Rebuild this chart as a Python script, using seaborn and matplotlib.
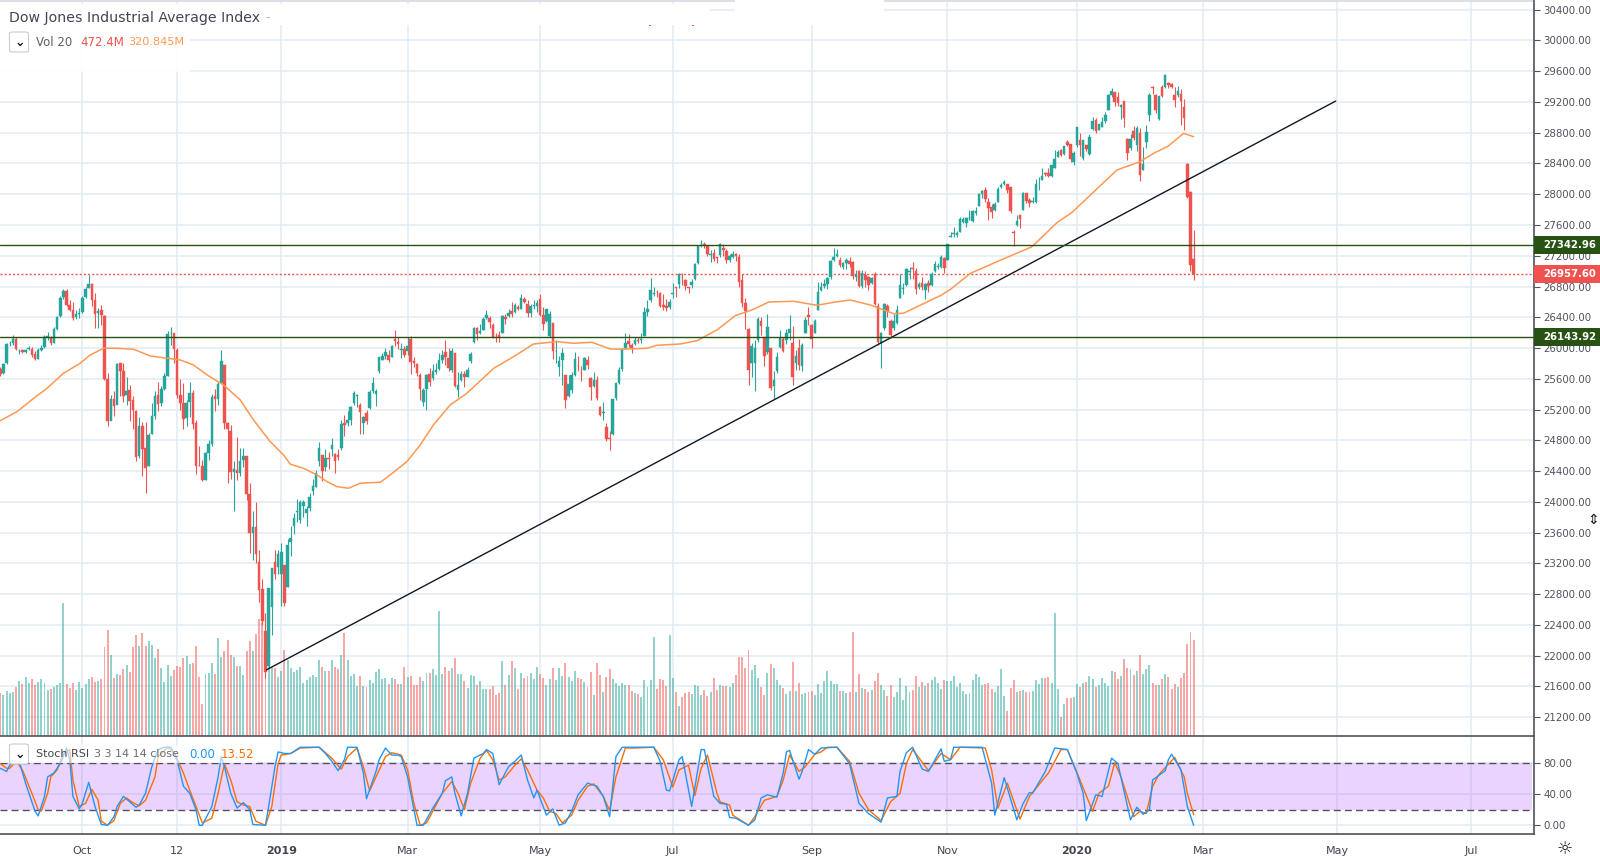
import matplotlib
matplotlib.use("Agg")
import matplotlib.pyplot as plt
from matplotlib.patches import Rectangle, FancyBboxPatch
import pandas as pd
import seaborn as sns

# daily candles, first bar = 23 Aug 2018
opens = [25730,25670,25800,26060,26070,26120,25960,25970,25950,25985,
         25990,25920,25860,25970,26010,26150,26130,26070,26250,26415,
         26660,26740,26560,26500,26400,26440,26470,26660,26780,26830,
         26630,26450,26490,26420,25600,25050,25340,25260,25800,25700,
         25390,25460,25320,25180,24590,24980,24700,24470,24880,25120,
         25390,25280,25470,25640,26190,26190,25980,25390,25290,25090,
         25300,25420,25020,24470,24460,24290,24640,24750,25370,25340,
         25540,25780,25030,24920,24390,24420,24380,24540,24590,24100,
         23600,23675,23224,22873,22320,21860,22630,23215,23153,23060,
         23177,22894,23474,23680,23864,23770,23940,23850,23914,24140,
         24190,24535,24606,24455,24576,24687,24625,24607,24700,25030,
         25025,25062,25287,25371,25265,25030,25152,25226,25446,25400,
         25700,25849,25892,25911,25890,26122,26084,25970,25984,25960,
         26122,25829,25790,25645,25300,25471,25660,25615,25690,25730,
         25845,25950,25870,25710,25930,25450,25580,25660,25625,25835,
         26075,26265,26200,26235,26395,26395,26300,26160,26175,26200,
         26400,26420,26480,26470,26540,26510,26640,26570,26460,26545,
         26545,26640,26430,26350,26155,26320,25960,25755,25845,25650,
         25370,25460,25650,25770,25680,25720,25850,25610,25510,25590,
         25230,25150,24970,24830,24880,25350,25550,25730,26000,26090,
         26040,26050,26110,26110,26160,26470,26620,26700,26730,26720,
         26560,26550,26530,26700,26790,26830,26930,26880,26790,26820,
         26900,27100,27350,27350,27330,27210,27230,27180,27210,27300,
         27260,27140,27190,27220,27190,26880,26580,26250,25810,25810,
         26100,26350,26150,25950,26000,25500,25700,26020,26120,26100,
         26200,26070,25800,26000,25770,26200,26430,26300,26200,26500,
         26760,26810,26830,26930,27150,27200,27150,27060,27110,27130,
         27120,26930,27000,26810,26950,26930,26850,26960,26550,26060,
         26260,26550,26350,26260,26320,26650,26770,26820,26990,27040,
         27000,26800,26850,26750,26840,26820,27000,27060,27060,27170,
         27150,27450,27480,27470,27510,27640,27620,27690,27650,27750,
         27850,28000,28050,27900,27830,27800,27900,28100,28130,28130,
         28100,27510,27600,27730,27800,28010,27920,27900,27900,28130,
         28190,28270,28280,28240,28340,28490,28570,28520,28680,28650,
         28420,28640,28710,28470,28640,28520,28850,28960,28840,28880,
         28950,29100,29290,29330,29270,29140,29210,28720,28600,28820,
         28640,28800,28320,28680,29030,29395,29290,28980,29400,29390,
         29450,29440,29290,29290,29300,29130,28390,28030,27160]
highs = [25760,25810,26060,26090,26170,26140,25990,25990,25990,26030,
         26020,25960,26000,26040,26170,26210,26160,26270,26420,26680,
         26770,26770,26620,26600,26500,26520,26680,26800,26950,26840,
         26710,26520,26560,26430,25670,25390,25440,25810,25800,25800,
         25620,25520,25380,25190,25100,25040,25040,24900,25280,25440,
         25560,25500,25680,26220,26280,26200,26000,25600,25550,25320,
         25560,25450,25060,24720,24540,24650,24800,25400,25470,25560,
         25980,25780,25040,25000,24530,24840,24700,24700,24600,24250,
         23880,24000,23380,23000,22550,22880,23140,23380,23380,23470,
         23180,23520,23690,23860,24040,24030,24020,23950,24120,24300,
         24420,24780,24610,24690,24650,24830,24630,24690,25060,25130,
         25180,25250,25440,25400,25290,25120,25200,25460,25620,25470,
         25890,25940,26000,25980,26040,26240,26150,26060,26030,26150,
         26160,25890,25800,25670,25480,25660,25740,25790,25800,25930,
         25970,26110,26000,26000,25930,25690,25700,25700,25750,25950,
         26270,26270,26310,26400,26490,26420,26320,26200,26220,26430,
         26440,26510,26600,26590,26560,26700,26660,26620,26570,26620,
         26620,26700,26530,26510,26480,26330,26100,25900,26000,25650,
         25650,25690,25950,25900,25770,25880,25900,25620,25690,25630,
         25240,25300,25030,24920,25340,25550,25750,26000,26200,26180,
         26070,26150,26140,26190,26540,26620,26910,26800,26750,26730,
         26700,26640,26640,26840,26800,26980,26970,26900,26800,26900,
         27100,27340,27400,27380,27340,27270,27290,27190,27370,27350,
         27290,27220,27260,27230,27220,26960,26650,26260,26060,26110,
         26410,26400,26150,26440,26000,25700,25950,26230,26140,26250,
         26430,26290,25970,26120,26060,26400,26540,26310,26380,26860,
         26860,26900,26920,27150,27300,27290,27180,27120,27170,27190,
         27130,27020,27010,27010,27000,26940,26930,26990,26590,26210,
         26590,26570,26380,26440,26560,26960,26840,27040,27050,27120,
         27040,26860,26920,26850,26880,26990,27130,27100,27210,27190,
         27350,27510,27570,27520,27700,27700,27700,27790,27800,27840,
         28010,28060,28090,27950,27870,27900,28090,28140,28180,28130,
         28100,27540,27730,27730,28030,28020,27950,27960,28200,28220,
         28340,28290,28340,28380,28580,28580,28590,28630,28700,28650,
         28560,28880,28800,28710,28640,28780,29000,28990,28910,29000,
         29070,29300,29380,29330,29330,29170,29210,28730,28780,28890,
         28890,28860,28620,28900,29320,29410,29310,29280,29420,29570,
         29460,29450,29390,29410,29370,29240,28410,28040,27540]
lows = [25640,25660,25790,26030,26040,25970,25920,25930,25930,25970,
        25890,25840,25860,25960,26000,26110,26040,26060,26240,26410,
        26640,26550,26480,26370,26380,26390,26450,26650,26780,26550,
        26260,26260,26300,25580,24980,25120,25120,25270,25380,25300,
        25260,25050,24950,24530,24570,24330,24120,24470,24880,25080,
        25180,25250,25460,25640,26040,25800,25350,25200,24950,24990,
        25100,24950,24360,24460,24270,24290,24550,24720,25180,25260,
        25700,24950,24240,24300,23880,24280,24330,24450,24030,23340,
        23250,23200,22700,22400,21710,21850,22270,23000,23060,22640,
        22640,22890,23300,23580,23740,23720,23800,23690,23880,24090,
        24190,24470,24270,24400,24430,24590,24380,24540,24680,24860,
        24980,25000,25260,25230,24880,24880,25010,25210,25420,25250,
        25680,25840,25860,25820,25880,26030,25990,25870,25880,25910,
        25660,25750,25640,25320,25250,25200,25500,25590,25660,25720,
        25810,25780,25700,25690,25490,25360,25570,25490,25620,25800,
        26070,26110,26180,26230,26380,26260,26130,26080,26080,26200,
        26310,26410,26400,26450,26500,26510,26590,26410,26400,26510,
        26470,26420,26230,26340,26150,25860,25800,25630,25520,25220,
        25360,25420,25630,25700,25570,25720,25730,25330,25490,25320,
        25110,25060,24790,24680,24870,25330,25530,25700,25990,26010,
        25930,26040,26060,26070,26160,26420,26600,26680,26660,26530,
        26500,26480,26510,26650,26670,26780,26820,26760,26720,26780,
        26890,27090,27310,27300,27200,27120,27130,27110,27190,27200,
        27110,27120,27170,27130,26800,26530,26250,25520,25620,25440,
        26080,26170,25770,25920,25460,25340,25680,26000,25950,26050,
        26100,25520,25720,25720,25700,26200,26300,26000,26190,26500,
        26740,26780,26770,26900,27130,27180,27060,27030,27030,27060,
        26900,26870,26800,26780,26800,26750,26830,26560,26040,25745,
        26240,26400,26130,26240,26310,26650,26700,26810,26900,26900,
        26700,26770,26750,26640,26730,26810,26990,27030,27040,26980,
        27150,27440,27450,27440,27510,27620,27570,27660,27640,27730,
        27850,27950,27900,27670,27690,27780,27900,28080,28120,28020,
        27760,27330,27590,27560,27800,27890,27840,27880,27880,28060,
        28190,28240,28230,28220,28340,28490,28500,28510,28630,28420,
        28380,28620,28500,28450,28560,28510,28840,28790,28830,28870,
        28930,29090,29260,29150,29150,28980,28880,28440,28580,28700,
        28560,28170,28320,28600,28950,29310,29060,28970,29260,29380,
        29380,29380,29130,29270,28900,28830,27950,27000,26880]
closes = [25656,25790,26049,26064,26124,25986,25964,25952,25974,25995,
          25916,25857,25971,25998,26145,26154,26062,26246,26405,26656,
          26743,26562,26492,26385,26439,26458,26651,26773,26828,26627,
          26447,26486,26430,25599,25052,25339,25250,25798,25706,25380,
          25444,25317,25191,24583,24984,24688,24443,24874,25116,25380,
          25270,25461,25635,26180,26191,25989,25387,25286,25080,25289,
          25413,25017,24465,24464,24285,24640,24748,25366,25338,25538,
          25826,25027,24947,24389,24423,24370,24527,24597,24100,23592,
          23675,23323,22859,22445,21792,22878,23138,23062,23327,23346,
          22686,23433,23531,23787,23879,24001,23995,23909,24065,24207,
          24370,24706,24404,24575,24553,24737,24528,24579,25014,24999,
          25063,25239,25411,25390,25169,25106,25053,25425,25543,25439,
          25883,25891,25954,25850,26031,26091,26057,25985,25916,26026,
          25819,25806,25673,25473,25450,25650,25554,25702,25709,25849,
          25914,25887,25745,25962,25502,25516,25657,25625,25717,25928,
          26258,26179,26218,26384,26424,26341,26150,26157,26143,26412,
          26384,26452,26449,26559,26511,26656,26597,26462,26543,26554,
          26592,26430,26307,26504,26438,25965,25967,25828,25942,25324,
          25532,25648,25862,25764,25679,25877,25776,25490,25585,25347,
          25126,25169,24815,24819,25332,25539,25720,25983,26062,26048,
          26004,26106,26089,26112,26465,26504,26753,26719,26727,26548,
          26536,26526,26599,26717,26786,26966,26922,26806,26783,26860,
          27088,27332,27359,27335,27219,27222,27154,27171,27349,27269,
          27140,27192,27221,27198,26864,26583,26485,25717,26030,26007,
          26378,26287,25897,26280,25479,25579,25886,26135,25962,26202,
          26252,25628,25898,25777,26036,26362,26403,26118,26355,26728,
          26797,26835,26909,27137,27182,27219,27076,27110,27147,27094,
          26935,26949,26808,26970,26891,26820,26917,26573,26078,26201,
          26573,26478,26164,26346,26496,26816,26787,27024,26997,27025,
          26770,26827,26788,26833,26805,26958,27090,27071,27186,27046,
          27347,27462,27492,27492,27674,27681,27691,27691,27783,27781,
          28004,28036,27934,27821,27766,27875,28066,28121,28164,28051,
          27783,27502,27649,27677,28015,27909,27881,27911,28132,28135,
          28235,28267,28239,28376,28455,28551,28515,28621,28645,28462,
          28538,28868,28634,28703,28583,28745,28956,28823,28907,28939,
          29030,29297,29348,29196,29186,29160,28989,28535,28722,28734,
          28859,28256,28399,28807,29290,29379,29102,29276,29276,29551,
          29423,29398,29232,29348,29219,28992,27960,27081,26957.6]
volumes = [210,202,221,210,215,239,271,256,289,259,
           280,251,266,280,262,226,231,239,251,259,
           656,254,238,259,226,264,235,256,282,292,
           266,269,280,440,522,398,284,303,300,328,
           349,313,440,497,443,508,443,467,448,385,
           428,333,267,349,295,325,344,338,385,395,
           354,361,444,289,157,305,310,357,305,480,
           390,418,472,398,387,344,344,300,420,467,
           418,502,576,562,525,407,341,333,292,320,
           423,374,333,317,325,338,261,276,292,298,
           289,374,338,321,321,374,338,330,399,508,
           374,297,303,246,295,248,243,276,262,313,
           330,279,284,256,284,279,256,
           256,338,290,295,249,249,290,271,310,310,
           330,300,615,305,339,320,335,384,305,305,
           271,236,300,295,251,271,231,231,231,246,
           202,212,369,251,300,369,335,231,310,285,
           295,310,280,339,305,285,251,280,335,276,
           335,295,359,290,271,320,285,282,266,241,
           315,202,359,300,216,290,330,280,261,246,
           261,251,251,221,212,207,192,276,241,276,
           487,231,280,276,246,497,285,216,148,192,
           212,216,207,251,246,202,226,197,216,285,
           226,251,246,246,241,261,300,389,389,335,
           423,325,349,285,241,202,310,354,335,276,
           251,236,207,221,364,221,261,
           207,212,216,221,202,256,212,271,320,271,
           256,256,221,221,212,216,512,216,305,236,
           231,216,226,271,310,251,226,197,251,192,
           216,285,177,246,216,226,295,241,266,246,
           261,276,290,261,231,276,271,271,295,241,
           261,221,207,212,276,305,290,251,257,261,
           231,216,246,330,197,123,236,276,216,221,
           226,216,216,221,276,256,285,285,289,261,
           605,231,93,157,187,187,192,256,241,261,
           266,295,280,241,251,285,261,246,320,315,
           280,295,379,335,330,300,320,399,305,330,
           349,261,251,251,280,305,290,231,256,241,
           285,310,453,512,472]

# moving average on the price pane
ma_bar = [0,5.3,10.6,14.8,20,25.3,28.5,32.7,37,42.2,47.5,52.8,57,61.2,65.5,70.7,76,80.2,85.5,89.7,
          91.9,96,100.3,103.5,106.6,110.3,114,120.4,123.5,128.8,133,137.2,142.5,147.8,156.3,162.6,
          168.9,176.3,181.6,187.4,193.2,196.4,204.8,208,215.4,220.7,227,232.8,238.6,243.4,251.3,258.7,
          264,269.2,275.6,283,286.1,290.4,297.8,301,307.3,315.7,326.8,334.7,339.5,345.3,353.7,361,
          365.3,370,374.8,378]
ma_val = [25056,25173,25347,25477,25672,25802,25910,25997,25997,25984,25897,25867,25845,25780,25650,25520,
          25325,25065,24783,24610,24489,24437,24350,24263,24198,24177,24242,24255,24350,24523,24740,25000,
          25260,25412,25737,25888,26053,26083,26062,26075,25988,25984,25997,26036,26053,26096,26235,26421,
          26504,26599,26608,26556,26595,26625,26560,26447,26452,26538,26681,26764,26972,27123,27318,27630,
          27765,27990,28315,28423,28532,28627,28792,28748]

# trend line and the two support / resistance levels
trend_bar = [84.3, 423]
trend_val = [21815, 29212]
level_high = 27342.96
level_low = 26143.92
last_price = 26957.60

# Stoch RSI
k_bar = [0,2,3,5,6,8,11,12,14,15,17,19,21,22,23,25,26,28,30,32,34,36,37,39,41,43,44,46,48,50,52,54,56,58,60,62,
         63,64,67,69,70,71,73,75,77,79,80,84,85,87,88,90,92,95,101,103,105,107,109,110,113,115,116,119,120,122,124,126,
         127,129,132,134,137,140,141,143,144,146,148,150,153,154,156,158,161,163,165,167,169,170,173,175,177,179,181,183,
         186,189,191,193,195,197,207,209,211,212,215,216,219,222,223,226,228,230,231,233,237,239,241,243,246,248,249,250,253,
         254,256,258,260,265,269,272,275,279,281,284,285,287,289,292,294,298,299,301,302,311,314,315,318,322,324,326,327,
         331,334,338,341,343,344,347,349,352,354,358,360,362,364,365,369,370,371,374,376,378]
k_val = [73,69,77,84,82,54,18,12,37,62,67,79,99,84,37,21,28,55,24,1,0,11,24,37,30,23,26,41,75,97,100,100,84,50,41,20,
         0,0,24,62,88,75,41,22,29,20,1,0,24,75,94,92,92,100,100,92,82,70,84,100,100,67,34,69,84,99,90,90,
         88,62,0,0,22,41,57,62,41,12,41,86,92,97,92,52,75,82,90,58,35,45,13,21,0,3,18,39,
         54,50,37,11,88,100,100,82,45,44,84,88,24,97,97,37,28,27,10,9,0,7,35,39,36,67,94,96,59,
         69,97,91,99,100,79,28,15,4,35,37,69,93,100,72,69,98,82,84,100,100,54,13,61,7,28,42,41,
         69,99,97,67,41,6,39,37,86,79,7,23,14,20,58,70,84,91,71,24,0]
d_bar = [0,2,3,5,7,10,12,13,15,16,18,20,22,23,25,27,29,31,32,34,36,38,40,42,44,46,49,50,53,55,58,60,62,64,67,69,71,
         73,75,77,79,81,84,86,88,89,92,95,101,105,108,110,113,115,117,119,122,124,126,
         127,129,131,133,135,137,140,143,145,147,149,152,154,156,158,160,163,165,167,170,172,174,176,178,181,183,186,188,
         191,193,195,198,201,207,210,213,215,218,220,222,224,227,228,231,232,237,239,242,246,248,250,253,
         255,258,260,262,265,269,272,275,279,282,285,287,289,294,298,301,304,312,314,316,319,323,326,332,336,338,342,346,
         348,351,353,355,359,361,363,365,367,372,375,376,378]
d_val = [79,73,73,82,71,41,20,18,41,62,71,92,97,58,24,28,46,32,5,0,6,28,35,29,25,32,62,88,100,94,67,45,24,3,9,41,79,
         58,30,26,24,5,0,24,79,90,92,99,100,86,72,88,99,75,44,62,88,93,91,
         90,71,28,0,3,18,41,56,41,20,54,86,96,84,58,62,77,85,71,45,35,18,15,3,13,32,50,53,
         37,19,62,99,99,100,84,49,71,77,38,73,90,41,30,26,13,0,11,32,37,58,90,69,
         75,91,94,100,100,82,41,20,6,30,41,79,97,70,92,84,100,99,71,22,54,8,37,67,97,97,58,18,
         41,50,80,62,11,18,15,50,65,87,62,41,13.52]

# bottom axis
month_bars = [26,56,89,129,171,213,257,300,341,381,423.5,466]
month_labels = ["Oct","12","2019","Mar","May","Jul","Sep","Nov","2020","Mar","May","Jul"]

TEAL = "#26a69a"
RED = "#ef5350"
GRID = "#e3ecf3"
AXIS = "#50535e"
GREEN = "#275214"

sns.set_theme(style="white")
plt.rcParams["font.family"] = ["DejaVu Sans"]

W, H = 1600, 860
AX_R = 1534
fig = plt.figure(figsize=(W / 100, H / 100), dpi=100)
main_pos = [0, 1 - 736 / H, AX_R / W, 736 / H]
low_pos = [0, 1 - 834 / H, AX_R / W, 98 / H]

PX = 3.157
xlim = (-0.3 / PX, (AX_R - 0.3) / PX)
ylim = (20955, 30526)
ticks_price = list(range(21200, 30401, 400))

# three stacked axes so the grid is under the volume and the candles on top
base = fig.add_axes(main_pos)
vol = fig.add_axes(main_pos)
ax = fig.add_axes(main_pos)
low = fig.add_axes(low_pos)

base.set_xlim(xlim)
base.set_ylim(ylim)
base.set_xticks(month_bars)
base.set_yticks(ticks_price)
base.tick_params(left=False, bottom=False, labelleft=False, labelbottom=False)
base.grid(True, color=GRID, lw=1.1)
sns.despine(ax=base, left=True, bottom=True, right=True, top=True)

df = pd.DataFrame({"bar": range(len(closes)), "open": opens, "high": highs,
                   "low": lows, "close": closes, "volume": volumes})
df["dir"] = ["up" if c >= o else "down" for o, c in zip(opens, closes)]

# linewidth 0: the seaborn theme forces white edges on patches otherwise
sns.barplot(data=df, x="bar", y="volume", hue="dir", palette={"up": TEAL, "down": RED},
            native_scale=True, dodge=False, width=0.62, saturation=1, alpha=0.5,
            legend=False, linewidth=0, edgecolor="none", ax=vol)
vol.set_xlim(xlim)
vol.set_ylim(0, 736 * 4.92)
vol.axis("off")
vol.patch.set_visible(False)

# candles
ax.patch.set_visible(False)
colors = [TEAL if d == "up" else RED for d in df["dir"]]
ax.vlines(df["bar"], df["low"], df["high"], colors=colors, lw=0.8, zorder=3)
ax.bar(df["bar"], (df["close"] - df["open"]).abs(), bottom=df[["open", "close"]].min(axis=1),
       width=0.8, color=colors, edgecolor=colors, lw=0.3, zorder=4)

sns.lineplot(x=ma_bar, y=ma_val, color="#ff9850", lw=1.1, estimator=None, sort=False, ax=ax, zorder=5)
sns.lineplot(x=trend_bar, y=trend_val, color="#131722", lw=1.0, estimator=None, sort=False, ax=ax, zorder=6)
ax.axhline(level_high, color=GREEN, lw=1.0, zorder=6)
ax.axhline(level_low, color=GREEN, lw=1.0, zorder=6)
ax.axhline(last_price, color=RED, lw=1.0, ls=(0, (1.5, 1.5)), zorder=2)

ax.set_xlim(xlim)
ax.set_ylim(ylim)
ax.set_xticks([])
ax.yaxis.tick_right()
ax.set_yticks(ticks_price)
ax.set_yticklabels([f"{t:.2f}" for t in ticks_price])
ax.tick_params(axis="y", length=4.5, width=0.8, color=AXIS, labelcolor=AXIS, labelsize=7.4, pad=2.5)
for s in ["left", "top", "bottom"]:
    ax.spines[s].set_visible(False)
ax.spines["right"].set_color(AXIS)
ax.spines["right"].set_linewidth(1.2)

# price tags on the scale
tag_h = 18 * 13.0
for val, col in [(level_high, GREEN), (level_low, GREEN), (last_price, RED)]:
    ax.add_patch(Rectangle((1.0, val - tag_h / 2), W / AX_R - 1.0, tag_h, transform=ax.get_yaxis_transform(),
                           color=col, lw=0, clip_on=False, zorder=10))
    ax.text(1543 / AX_R, val, f"{val:.2f}", transform=ax.get_yaxis_transform(), color="white",
            fontsize=7.3, fontweight="bold", va="center", ha="left", clip_on=False, zorder=11)

# Stoch RSI pane
low.set_xlim(xlim)
low.set_ylim(-11.2, 114.4)
low.axhspan(20, 80, xmax=0.9985, color="#9c27ff", alpha=0.2, lw=0, zorder=1)
low.set_xticks(month_bars)
low.set_xticklabels(month_labels)
low.yaxis.tick_right()
low.set_yticks([0, 40, 80])
low.set_yticklabels(["0.00", "40.00", "80.00"])
low.grid(True, color=GRID, lw=1.1, zorder=0)
low.set_axisbelow(True)
low.axhline(80, color=AXIS, lw=1.0, ls=(0, (5, 3)), zorder=2)
low.axhline(20, color=AXIS, lw=1.0, ls=(0, (5, 3)), zorder=2)
sns.lineplot(x=k_bar, y=k_val, color="#2196f3", lw=1.0, estimator=None, sort=False, ax=low, zorder=4)
sns.lineplot(x=d_bar, y=d_val, color="#ff6d00", lw=1.0, estimator=None, sort=False, ax=low, zorder=3)
low.tick_params(axis="y", length=4.5, width=0.8, color=AXIS, labelcolor=AXIS, labelsize=7.4, pad=2.5)
low.tick_params(axis="x", length=3.5, width=0.8, color=AXIS, labelcolor="#434651", labelsize=8, pad=5)
for lab in low.get_xticklabels():
    if lab.get_text() in ("2019", "2020"):
        lab.set_fontweight("bold")
low.spines["left"].set_visible(False)
for s in ["top", "bottom", "right"]:
    low.spines[s].set_color(AXIS)
    low.spines[s].set_linewidth(1.2)


def put(x, y, s, **kw):
    return fig.text(x / W, 1 - y / H, s, va="center", ha="left", zorder=22, **kw)


def cover(x0, y0, x1, y1, color="white", alpha=1.0):
    fig.add_artist(Rectangle((x0 / W, 1 - y1 / H), (x1 - x0) / W, (y1 - y0) / H, transform=fig.transFigure,
                             fc=color, alpha=alpha, lw=0, zorder=20))


def button(y):
    fig.add_artist(FancyBboxPatch((9.5 / W, 1 - (y + 10) / H), 19 / W, 20 / H, boxstyle="round,pad=0,rounding_size=0.002",
                                  transform=fig.transFigure, fc="white", ec="#c9cbd1", lw=0.8, zorder=21))
    put(14.5, y + 0.5, "\u2304", color="#131722", fontsize=9, fontweight="bold")


# header backdrops, the white strip along the top
cover(0, 4, 710, 25)
cover(735, 0, 884, 25)
cover(0, 0, 735, 1.5, color="#dedee9")
cover(884, 0, 1533, 1.5, color="#dedee9")
cover(0, 25, 190, 72, alpha=0.92)
cover(0, 745, 258, 763, alpha=0.6)
cover(649, 24.5, 651, 26, color=RED)
cover(692, 24.5, 694, 26, color=RED)

put(9, 18, "Dow Jones Industrial Average Index", color="#434651", fontsize=10.2)
put(265, 18, "-", color="#b2b5be", fontsize=9)
button(42)
put(36, 42, "Vol 20", color="#5d606b", fontsize=8.5)
put(80, 42, "472.4M", color=RED, fontsize=8.5)
put(128, 42, "320.845M", color="#ff9850", fontsize=8.1)
button(754)
put(36, 754, "Stoch RSI", color="#434651", fontsize=8.0)
put(94, 754, "3 3 14 14 close", color="#6a6d78", fontsize=8.0)
put(189, 754, "0.00", color="#2196f3", fontsize=8.5)
put(221, 754, "13.52", color="#ff6d00", fontsize=8.5)
put(1557, 849, "\u263c", color="#131722", fontsize=13)
put(1587, 520, "\u21d5", color="#131722", fontsize=10)

fig.savefig("out.png", dpi=100)
